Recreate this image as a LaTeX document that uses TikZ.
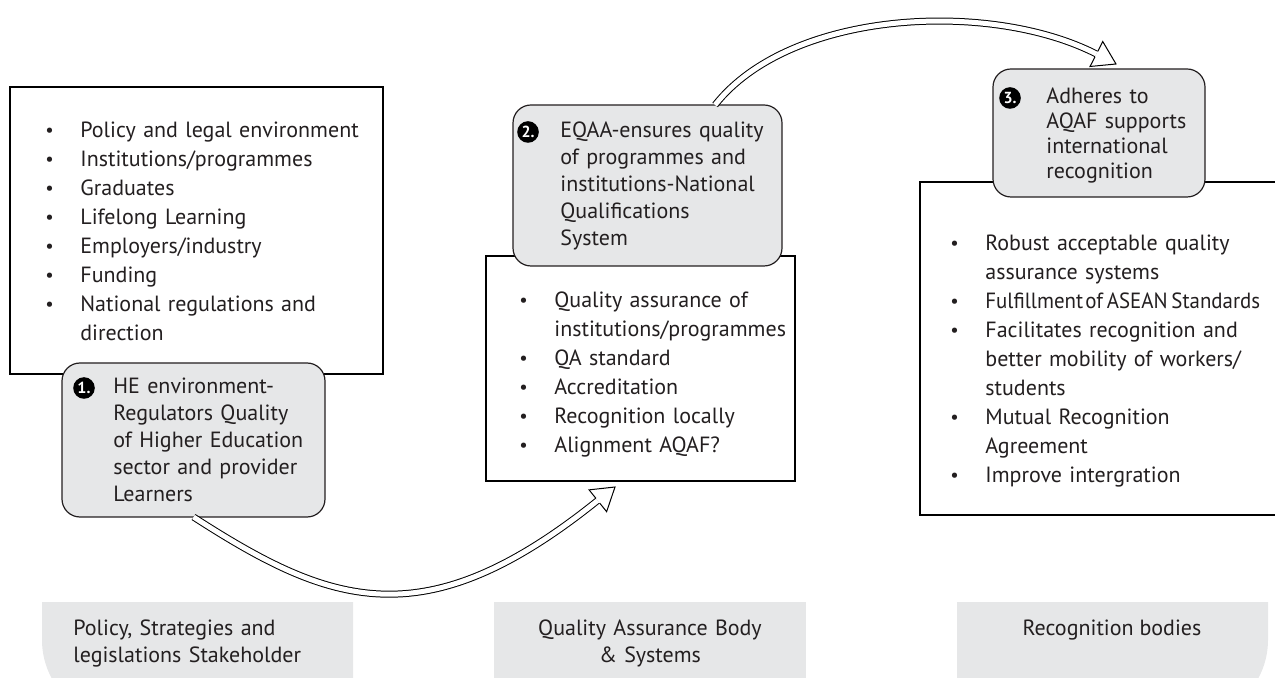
\documentclass[tikz,border=0pt]{standalone}
\usepackage{fontspec}
\usepackage{graphicx}
\setmainfont{PT Sans}
\usetikzlibrary{calc}
\definecolor{boxgray}{HTML}{E6E7E8}
\definecolor{txt}{HTML}{231F20}
\newcommand{\bl}{\makebox[17.5pt][l]{\raisebox{0.4pt}{\scalebox{0.85}{\textbullet}}}}
\newcommand{\ind}{\hspace*{17.5pt}}
\tikzset{
  plainbox/.style={draw=black, line width=0.6pt, fill=white, inner sep=0pt, outer sep=0pt},
  roundbox/.style={draw=txt, line width=0.6pt, fill=boxgray, rounded corners=9pt, inner sep=0pt, outer sep=0pt},
  numdot/.style={circle, fill=black, text=white, inner sep=0pt, minimum size=10.8pt, font=\fontsize{8}{8}\selectfont\bfseries},
  listtext/.style={anchor=base west, inner sep=0pt, align=left, text=txt, font=\fontsize{11}{14.5}\selectfont},
  boxtext/.style={anchor=base west, inner sep=0pt, align=left, text=txt, font=\fontsize{11}{13.5}\selectfont},
  labeltext/.style={anchor=base, inner sep=0pt, text=txt, font=\fontsize{11}{13.5}\selectfont},
  hollow/.style={draw=black, line width=0.5pt, double=white, double distance=2.5pt},
  headline/.style={draw=black, line width=0.5pt, line join=miter},
}
\begin{document}
\begin{tikzpicture}[x=0.5pt, y=-0.5pt]
\useasboundingbox (0,0) rectangle (1275,678);
\clip (0,0) rectangle (1275,678);

% bottom label boxes
\fill[boxgray] (353,602) -- (42,602) -- (42,640) [rounded corners=40pt] -- (42,720) -- (200,720) [sharp corners] -- (353,720) -- cycle;
\fill[boxgray] (494,602) rectangle (806,720);
\fill[boxgray] (957,602) -- (1268,602) -- (1268,640) [rounded corners=40pt] -- (1268,720) -- (1100,720) [sharp corners] -- (957,720) -- cycle;
\node[labeltext, text width=160pt, align=left, anchor=base west] (la) at (73,635.5) {Policy, Strategies and\\legislations Stakeholder};
\node[labeltext, text width=160pt, align=center] (lb) at (650,635.5) {Quality Assurance Body\\\& Systems};
\node[labeltext] (lc) at (1112,635.5) {Recognition bodies};

% content rectangles
\node[plainbox, minimum width=186.5pt, minimum height=143.5pt] (b1) at (196.5,230.5) {};
\node[plainbox, minimum width=154.5pt, minimum height=112.5pt] (b2) at (640.5,368.5) {};
\node[plainbox, minimum width=190pt, minimum height=166.5pt] (b3) at (1110,348.5) {};

\node[listtext, text width=175pt] (t1) at (45,137.5) {\bl Policy and legal environment\\
\bl Institutions/programmes\\
\bl Graduates\\
\bl Lifelong Learning\\
\bl Employers/industry\\
\bl Funding\\
\bl National regulations and\\
\ind direction};

\node[listtext, text width=150pt] (t2) at (519,307.5) {\bl Quality assurance of\\
\ind institutions/programmes\\
\bl QA standard\\
\bl Accreditation\\
\bl Recognition locally\\
\bl Alignment AQAF?};

\node[listtext, text width=170pt] (t3) at (950,250.5) {\bl Robust acceptable quality\\
\ind assurance systems\\
\bl \scalebox{0.95}[1]{Fulfillment\hspace{1.2pt}of\hspace{2pt}ASEAN\hspace{2pt}Standards}\\
\bl Facilitates recognition and\\
\ind better mobility of workers/\\
\ind students\\
\bl Mutual Recognition\\
\ind Agreement\\
\bl Improve intergration};

% arrow end points
\coordinate (tipA) at (1116,64);
\coordinate (baseA) at (1096.4,54);
\coordinate (tipB) at (615,487);
\coordinate (baseB) at (597.7,500.5);

% rounded boxes
\node[roundbox, minimum width=131.5pt, minimum height=77pt] (r1) at (193.5,440) {};
\node[roundbox, minimum width=134.5pt, minimum height=80.5pt] (r2) at (647.5,185.5) {};
\node[roundbox, minimum width=106pt, minimum height=64pt] (r3) at (1099,133) {};

\draw[hollow] (r1.south) .. controls (330,605) and (424,640) .. (baseB);
\draw[hollow] (r2.50) .. controls (790,10) and (989.5,-0.5) .. (baseA);

\begin{scope}[shift={(tipA)}, rotate=-27]
  \fill[white] (-22,14) -- (0,0) -- (-22,-14) -- cycle;
  \draw[headline] (-22,3) -- (-22,14) -- (0,0) -- (-22,-14) -- (-22,-3);
\end{scope}
\begin{scope}[shift={(tipB)}, rotate=38.8]
  \fill[white] (-22,14) -- (0,0) -- (-22,-14) -- cycle;
  \draw[headline] (-22,3) -- (-22,14) -- (0,0) -- (-22,-14) -- (-22,-3);
\end{scope}

\node[numdot] (n1) at (84,388) {1.};
\node[boxtext, text width=120pt] (s1) at (113,393.5) {HE environment-\\Regulators Quality\\of Higher Education\\sector and provider\\Learners};
\node[numdot] (n2) at (528,132) {2.};
\node[boxtext, text width=120pt] (s2) at (560,137.5) {EQAA-ensures quality\\of programmes and\\institutions-National\\Qualifications\\System};
\node[numdot] (n3) at (1010,98) {3.};
\node[boxtext, text width=90pt, font=\fontsize{11}{12.5}\selectfont] (s3) at (1046,103.5) {Adheres to\\AQAF supports\\international\\recognition};
\end{tikzpicture}
\end{document}
